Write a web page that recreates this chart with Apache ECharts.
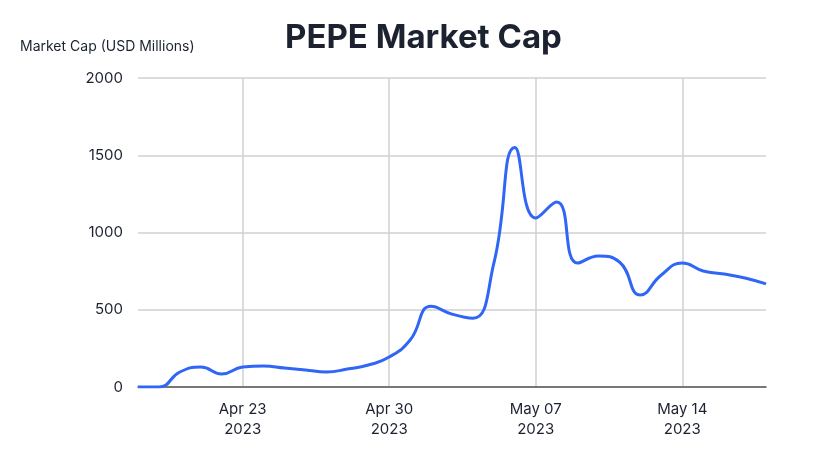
<!DOCTYPE html>
<html>
<head>
<meta charset="utf-8">
<script src="https://cdn.jsdelivr.net/npm/echarts@6/dist/echarts.min.js"></script>
<style>
  html, body { margin: 0; padding: 0; background: #fff; }
  #chart { width: 818px; height: 465px; }
</style>
</head>
<body>
<div id="chart"></div>
<script>
// daily dates, Apr 18 .. May 18 2023
var dates = [
  '2023-04-18', '2023-04-19', '2023-04-20', '2023-04-21', '2023-04-22', '2023-04-23',
  '2023-04-24', '2023-04-25', '2023-04-26', '2023-04-27', '2023-04-28', '2023-04-29',
  '2023-04-30', '2023-05-01', '2023-05-02', '2023-05-03', '2023-05-04', '2023-05-05',
  '2023-05-06', '2023-05-07', '2023-05-08', '2023-05-09', '2023-05-10', '2023-05-11',
  '2023-05-12', '2023-05-13', '2023-05-14', '2023-05-15', '2023-05-16', '2023-05-17',
  '2023-05-18'
];
// market cap, USD millions
var marketCap = [
  0, 0, 97, 129, 84, 129,
  136, 123, 110, 97, 116, 142,
  194, 304, 522, 472, 445, 802,
  1550, 1094, 1197, 802, 848, 809,
  595, 725, 802, 751, 731, 706,
  667
];
var yTicks = [0, 500, 1000, 1500, 2000];
var monthNames = ['Jan', 'Feb', 'Mar', 'Apr', 'May', 'Jun', 'Jul', 'Aug', 'Sep', 'Oct', 'Nov', 'Dec'];

var textColor = '#1c2230';
var font = 'Inter, "Noto Sans", sans-serif';

// weekly labels: Apr 23, Apr 30, May 07, May 14
function weekly(i) {
  return i >= 5 && (i - 5) % 7 === 0;
}

var chart = echarts.init(document.getElementById('chart'));
chart.setOption({
  animation: false,
  title: {
    text: 'PEPE Market Cap',
    left: 280,
    top: 17,
    textStyle: { fontFamily: font, fontSize: 33, fontWeight: 'bold', color: textColor }
  },
  grid: { left: 138, right: 52, top: 78, bottom: 78 },
  xAxis: {
    type: 'category',
    data: dates,
    boundaryGap: false,
    axisLine: { lineStyle: { color: '#555', width: 1.5 } },
    axisTick: { show: false },
    axisLabel: {
      interval: function (i) { return weekly(i); },
      fontFamily: font,
      fontSize: 15,
      color: textColor,
      lineHeight: 20,
      margin: 12,
      formatter: function (v) {
        var p = v.split('-');
        return monthNames[+p[1] - 1] + ' ' + p[2] + '\n' + p[0];
      }
    },
    splitLine: {
      show: true,
      interval: function (i) { return weekly(i); },
      lineStyle: { color: '#d0d0d0', width: 1.5 }
    }
  },
  yAxis: {
    type: 'value',
    min: yTicks[0],
    max: yTicks[yTicks.length - 1],
    interval: 500,
    name: 'Market Cap (USD Millions)',
    nameLocation: 'end',
    nameGap: 24,
    nameTextStyle: { fontFamily: font, fontSize: 14, color: textColor, align: 'left', padding: [0, 0, 0, -118] },
    axisLine: { show: false },
    axisTick: { show: false },
    axisLabel: {
      fontFamily: font, fontSize: 15, color: textColor, margin: 15,
      formatter: function (v) { return String(v); }
    },
    splitLine: { lineStyle: { color: '#d0d0d0', width: 1.5 } }
  },
  series: [{
    type: 'line',
    data: marketCap,
    smooth: 0.5,
    showSymbol: false,
    lineStyle: { color: '#2f66f6', width: 3 }
  }]
});
</script>
</body>
</html>
